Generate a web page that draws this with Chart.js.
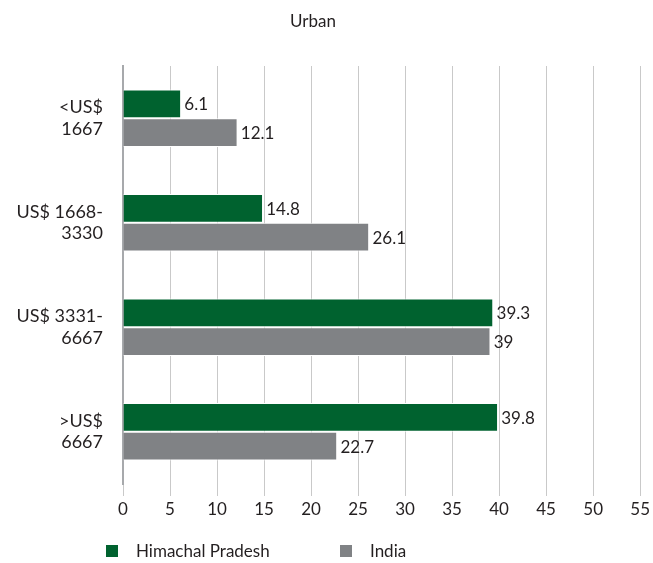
<!DOCTYPE html>
<html>
<head>
<meta charset="utf-8">
<script src="https://cdn.jsdelivr.net/npm/chart.js@4"></script>
<style>
  html, body { margin: 0; padding: 0; background: #fff; }
  #wrap { width: 653px; height: 563px; }
</style>
</head>
<body>
<div id="wrap"><canvas id="chart" width="653" height="563"></canvas></div>
<script>
const categories = [["<US$", "1667"], ["US$ 1668-", "3330"], ["US$ 3331-", "6667"], [">US$", "6667"]];
const himachal = [6.1, 14.8, 39.3, 39.8];
const india = [12.1, 26.1, 39, 22.7];
const seriesNames = ["Himachal Pradesh", "India"];
const chartTitle = "Urban";

const FONT = "Lato, 'Open Sans', sans-serif";
const TEXT = "#231f20";
const GREEN = "#00622f";
const GREY = "#808285";

// title, data labels and legend drawn on the canvas
const extras = {
  id: "extras",
  afterDatasetsDraw(chart) {
    const c = chart.ctx;
    c.save();
    c.fillStyle = TEXT;
    c.font = "17px " + FONT;
    c.textBaseline = "middle";
    chart.data.datasets.forEach((ds, i) => {
      chart.getDatasetMeta(i).data.forEach((bar, j) => {
        c.textAlign = "left";
        c.fillText(String(ds.data[j]), bar.x + 4, bar.y + 1);
      });
    });
    c.textAlign = "center";
    c.fillText(chartTitle, 313, 22);

    const legend = [
      { x: 106, color: GREEN, label: seriesNames[0] },
      { x: 340, color: GREY, label: seriesNames[1] }
    ];
    legend.forEach(l => {
      c.fillStyle = l.color;
      c.fillRect(l.x, 545, 12, 12);
      c.fillStyle = TEXT;
      c.textAlign = "left";
      c.fillText(l.label, l.x + 30, 552);
    });
    c.restore();
  }
};

new Chart(document.getElementById("chart").getContext("2d"), {
  type: "bar",
  data: {
    labels: categories,
    datasets: [
      { label: seriesNames[0], data: himachal, backgroundColor: GREEN, borderColor: "#fff", borderWidth: { top: 1, bottom: 1 }, borderSkipped: false },
      { label: seriesNames[1], data: india, backgroundColor: GREY, borderColor: "#fff", borderWidth: { top: 1, bottom: 1 }, borderSkipped: false }
    ]
  },
  options: {
    indexAxis: "y",
    responsive: false,
    animation: false,
    layout: { padding: { top: 66, right: 8, bottom: 39, left: 0 } },
    datasets: { bar: { categoryPercentage: 0.55, barPercentage: 1 } },
    plugins: {
      legend: { display: false },
      title: { display: false },
      tooltip: { enabled: false }
    },
    scales: {
      x: {
        min: 0,
        max: 55,
        ticks: { stepSize: 5, color: TEXT, font: { family: FONT, size: 17 }, padding: 3 },
        grid: { color: "#c9c9c9", lineWidth: 1, tickLength: 12 },
        border: { display: false },
        afterFit(scale) { scale.height = 40; }
      },
      y: {
        ticks: { color: TEXT, font: { family: FONT, size: 18 }, padding: 12 },
        grid: { display: false },
        border: { display: true, color: "#a7a9ac", width: 2 },
        afterFit(scale) { scale.width = 123; }
      }
    }
  },
  plugins: [extras]
});
</script>
</body>
</html>
